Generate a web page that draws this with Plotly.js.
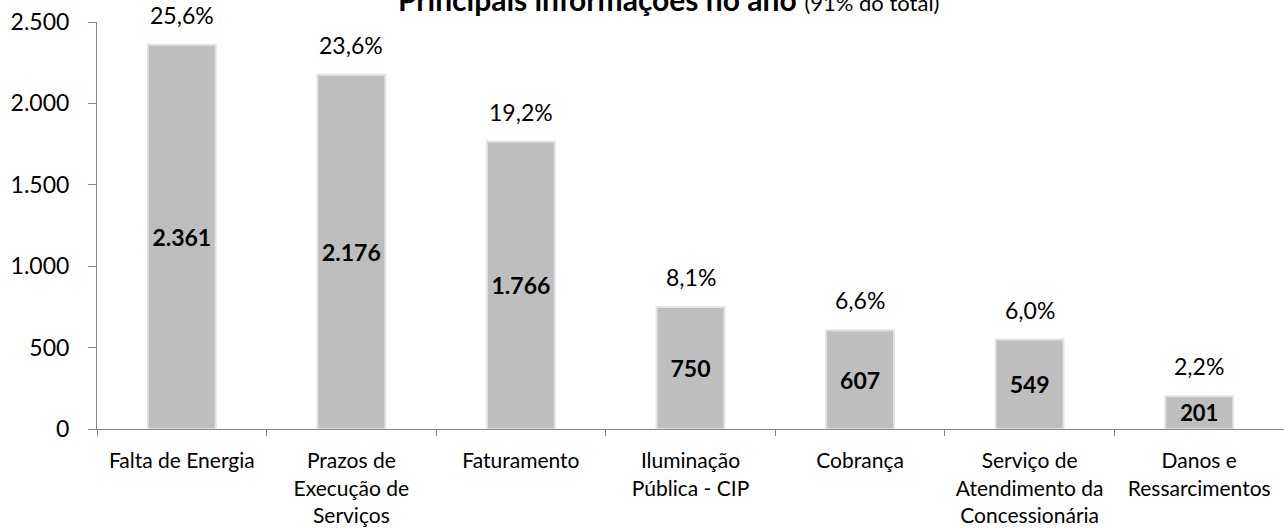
<!DOCTYPE html>
<html>
<head>
<meta charset="utf-8">
<script src="https://cdn.plot.ly/plotly-3.0.1.min.js"></script>
<style>html,body{margin:0;padding:0;background:#fff;}#chart{width:1284px;height:529px;}</style>
</head>
<body>
<div id="chart"></div>
<script>
const categories = [
  'Falta de Energia',
  'Prazos de<br>Execução de<br>Serviços',
  'Faturamento',
  'Iluminação<br>Pública - CIP',
  'Cobrança',
  'Serviço de<br>Atendimento da<br>Concessionária',
  'Danos e<br>Ressarcimentos'
];
const values = [2361, 2176, 1766, 750, 607, 549, 201];
const valueLabels = ['2.361', '2.176', '1.766', '750', '607', '549', '201'];
const percentLabels = ['25,6%', '23,6%', '19,2%', '8,1%', '6,6%', '6,0%', '2,2%'];
const yTicks = [0, 500, 1000, 1500, 2000, 2500];
const yTickLabels = ['0', '500', '1.000', '1.500', '2.000', '2.500'];
const titleMain = 'Principais informações no ano';
const titleSub = '(91% do total)';

const FONT = 'Lato, "Open Sans", sans-serif';

const trace = {
  type: 'bar',
  x: categories,
  y: values,
  text: valueLabels.map(t => '<b>' + t + '</b>'),
  textposition: 'inside',
  insidetextanchor: 'middle',
  textangle: 0,
  textfont: {family: FONT, size: 23, color: '#000'},
  marker: {color: '#BEBEBE', line: {color: '#E2E2E2', width: 2}},
  hoverinfo: 'none'
};

const annotations = categories.map((c, i) => ({
  x: c, y: values[i], xref: 'x', yref: 'y',
  text: percentLabels[i], showarrow: false,
  yanchor: 'bottom', yshift: 14,
  font: {family: FONT, size: 23, color: '#000'}
}));

annotations.push({
  xref: 'paper', yref: 'paper', x: (668 - 97) / 1187, y: 1,
  xanchor: 'center', yanchor: 'middle', yshift: 23,
  showarrow: false,
  text: '<b>' + titleMain + '</b> <span style="font-size:22px">' + titleSub + '</span>',
  font: {family: FONT, size: 30, color: '#000'}
});

const layout = {
  width: 1284, height: 529,
  margin: {l: 97, r: 0, t: 22, b: 100, pad: 0},
  paper_bgcolor: '#fff', plot_bgcolor: '#fff',
  separators: ',.',
  bargap: 0.6,
  showlegend: false,
  font: {family: FONT, size: 21, color: '#000'},
  xaxis: {
    type: 'category',
    showline: true, linecolor: '#868686', linewidth: 1,
    ticks: 'outside', tickson: 'boundaries', ticklen: 6, tickcolor: '#868686',
    ticklabelstandoff: 13,
    showgrid: false, zeroline: false,
    tickfont: {family: FONT, size: 21, color: '#000'},
    automargin: false
  },
  yaxis: {
    range: [0, 2500],
    tickvals: yTicks, ticktext: yTickLabels,
    showline: true, linecolor: '#868686', linewidth: 1,
    ticks: 'outside', ticklen: 8, tickcolor: '#868686',
    ticklabelstandoff: 14,
    showgrid: false, zeroline: false,
    tickfont: {family: FONT, size: 23, color: '#000'},
    automargin: false
  },
  annotations: annotations
};

Plotly.newPlot('chart', [trace], layout, {displayModeBar: false, staticPlot: true});
</script>
</body>
</html>
